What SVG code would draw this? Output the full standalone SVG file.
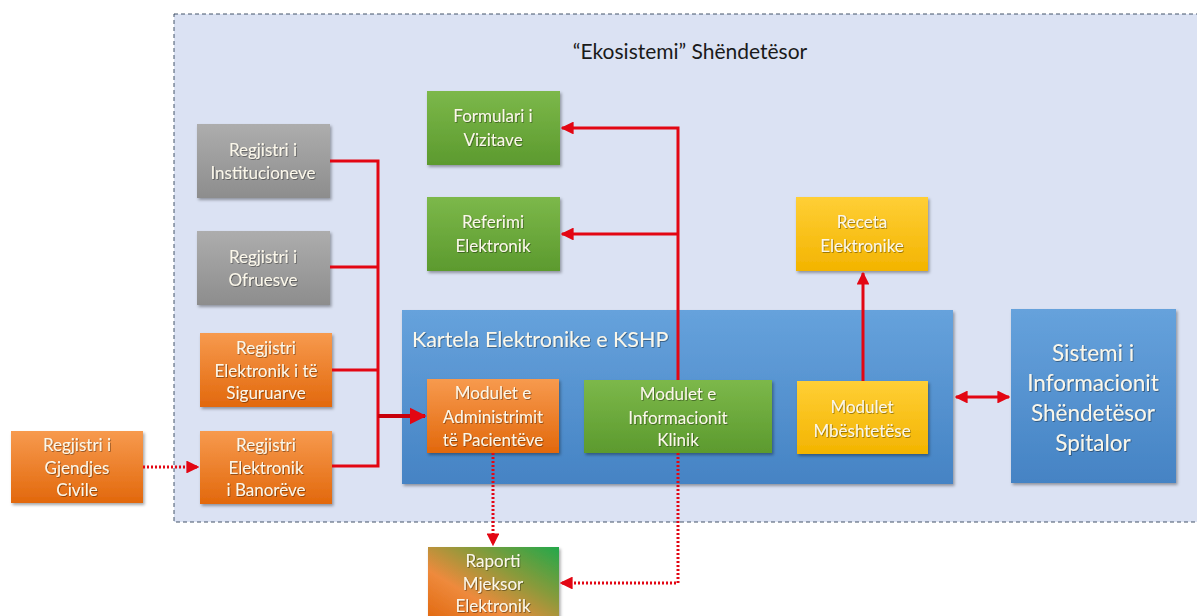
<svg xmlns="http://www.w3.org/2000/svg" width="1197" height="616" viewBox="0 0 1197 616">
<defs>
<linearGradient id="gGray" x1="0" y1="0" x2="0" y2="1"><stop offset="0" stop-color="#adadad"/><stop offset="1" stop-color="#8d8d8d"/></linearGradient>
<linearGradient id="gGreen" x1="0" y1="0" x2="0" y2="1"><stop offset="0" stop-color="#7cb84a"/><stop offset="1" stop-color="#5c9a2e"/></linearGradient>
<linearGradient id="gOrange" x1="0" y1="0" x2="0" y2="1"><stop offset="0" stop-color="#f79a4e"/><stop offset="1" stop-color="#e2680c"/></linearGradient>
<linearGradient id="gYellow" x1="0" y1="0" x2="0" y2="1"><stop offset="0" stop-color="#ffcf36"/><stop offset="1" stop-color="#f3b400"/></linearGradient>
<linearGradient id="gBlue" x1="0" y1="0" x2="0" y2="1"><stop offset="0" stop-color="#66a2dc"/><stop offset="1" stop-color="#4583c4"/></linearGradient>
<linearGradient id="gMix" x1="0" y1="1" x2="1" y2="0"><stop offset="0" stop-color="#e0650c"/><stop offset="0.35" stop-color="#ee8a3c"/><stop offset="0.65" stop-color="#8a9a3a"/><stop offset="1" stop-color="#22a84a"/></linearGradient>
<filter id="sh" x="-10%" y="-10%" width="130%" height="130%"><feDropShadow dx="1.5" dy="2" stdDeviation="1.5" flood-color="#000" flood-opacity="0.35"/></filter>
<filter id="ts" x="-5%" y="-20%" width="110%" height="140%"><feDropShadow dx="0.8" dy="0.8" stdDeviation="0.6" flood-color="#000" flood-opacity="0.45"/></filter>
<marker id="ah" viewBox="0 0 10 10" refX="9" refY="5" markerWidth="4.3" markerHeight="4.3" orient="auto-start-reverse"><path d="M0,0 L10,5 L0,10 z" fill="#e30613"/></marker>
</defs>
<style>
.t{font-family:Lato,"Open Sans",sans-serif;font-size:17px;fill:#fbf7ea;text-anchor:middle;filter:url(#ts)}
.red{stroke:#e30613;stroke-width:3;fill:none}
.dot{stroke:#e30613;stroke-width:3;fill:none;stroke-dasharray:2 2}
.box{filter:url(#sh)}
</style>
<rect x="0" y="0" width="1197" height="616" fill="#ffffff"/>
<g id="ecosystem">
<rect x="174" y="14" width="1030" height="508" fill="#dbe2f3" stroke="#44546a" stroke-width="1" stroke-dasharray="4 3"/>
<text x="690" y="59" style="font-family:Lato,'Open Sans',sans-serif;font-size:21px;fill:#1a1a1a;text-anchor:middle">“Ekosistemi” Shëndetësor</text>
</g>
<g id="kartela">
<rect class="box" x="402" y="310" width="551" height="174" fill="url(#gBlue)"/>
<text x="412" y="347" style="font-family:Lato,'Open Sans',sans-serif;font-size:21.5px;fill:#fbf7ea;filter:url(#ts)">Kartela Elektronike e KSHP</text>
</g>
<g id="n-institucioneve"><rect class="box" x="197" y="124" width="133" height="74" fill="url(#gGray)"/><text class="t" x="263" y="156">Regjistri i</text><text class="t" x="263" y="179">Institucioneve</text></g>
<g id="n-ofruesve"><rect class="box" x="197" y="231" width="133" height="74" fill="url(#gGray)"/><text class="t" x="263" y="263">Regjistri i</text><text class="t" x="263" y="286">Ofruesve</text></g>
<g id="n-siguruarve"><rect class="box" x="200" y="333" width="132" height="74" fill="url(#gOrange)"/><text class="t" x="266" y="354">Regjistri</text><text class="t" x="266" y="377">Elektronik i të</text><text class="t" x="266" y="399">Siguruarve</text></g>
<g id="n-banoreve"><rect class="box" x="200" y="431" width="132" height="73" fill="url(#gOrange)"/><text class="t" x="266" y="451">Regjistri</text><text class="t" x="266" y="474">Elektronik</text><text class="t" x="266" y="496">i Banorëve</text></g>
<g id="n-gjendjes"><rect class="box" x="11" y="431" width="132" height="72" fill="url(#gOrange)"/><text class="t" x="77" y="451">Regjistri i</text><text class="t" x="77" y="474">Gjendjes</text><text class="t" x="77" y="496">Civile</text></g>
<g id="n-formulari"><rect class="box" x="427" y="91" width="133" height="74" fill="url(#gGreen)"/><text class="t" x="493" y="122">Formulari i</text><text class="t" x="493" y="146">Vizitave</text></g>
<g id="n-referimi"><rect class="box" x="427" y="197" width="133" height="74" fill="url(#gGreen)"/><text class="t" x="493" y="228">Referimi</text><text class="t" x="493" y="252">Elektronik</text></g>
<g id="n-receta"><rect class="box" x="796" y="197" width="132" height="74" fill="url(#gYellow)"/><text class="t" x="862" y="228">Receta</text><text class="t" x="862" y="252">Elektronike</text></g>
<g id="n-administrimit"><rect class="box" x="427" y="379" width="132" height="74" fill="url(#gOrange)"/><text class="t" x="493" y="399">Modulet e</text><text class="t" x="493" y="423">Administrimit</text><text class="t" x="493" y="446">të Pacientëve</text></g>
<g id="n-klinik"><rect class="box" x="584" y="380" width="188" height="73" fill="url(#gGreen)"/><text class="t" x="678" y="400">Modulet e</text><text class="t" x="678" y="424">Informacionit</text><text class="t" x="678" y="446">Klinik</text></g>
<g id="n-mbeshtetese"><rect class="box" x="797" y="381" width="131" height="73" fill="url(#gYellow)"/><text class="t" x="862" y="413">Modulet</text><text class="t" x="862" y="437">Mbështetëse</text></g>
<g id="n-spitalor"><rect class="box" x="1011" y="309" width="165" height="174" fill="url(#gBlue)"/>
<text class="t" x="1093" y="361" style="font-size:22.5px">Sistemi i</text><text class="t" x="1093" y="391" style="font-size:22.5px">Informacionit</text><text class="t" x="1093" y="421" style="font-size:22.5px">Shëndetësor</text><text class="t" x="1093" y="451" style="font-size:22.5px">Spitalor</text></g>
<g id="n-raporti"><rect class="box" x="428" y="547" width="131" height="78" fill="url(#gMix)"/><text class="t" x="493" y="567">Raporti</text><text class="t" x="493" y="590">Mjeksor</text><text class="t" x="493" y="612">Elektronik</text></g>
<g id="connectors">
<polyline class="red" points="330,161 378,161 378,466 332,466"/>
<line class="red" x1="330" y1="267" x2="378" y2="267"/>
<line class="red" x1="332" y1="370" x2="378" y2="370"/>
<line x1="378" y1="416" x2="425" y2="416" stroke="#c8000a" stroke-width="4" marker-end="url(#ah)"/>
<polyline class="red" points="678,380 678,128 562,128" marker-end="url(#ah)"/>
<line class="red" x1="678" y1="234" x2="562" y2="234" marker-end="url(#ah)"/>
<line class="red" x1="863" y1="381" x2="863" y2="273" marker-end="url(#ah)"/>
<line class="red" x1="956" y1="397" x2="1009" y2="397" marker-start="url(#ah)" marker-end="url(#ah)"/>
<line class="dot" x1="143" y1="467" x2="198" y2="467" marker-end="url(#ah)"/>
<line class="dot" x1="493" y1="453" x2="493" y2="545" marker-end="url(#ah)"/>
<polyline class="dot" points="678,453 678,583 561,583" marker-end="url(#ah)"/>
</g>
</svg>
